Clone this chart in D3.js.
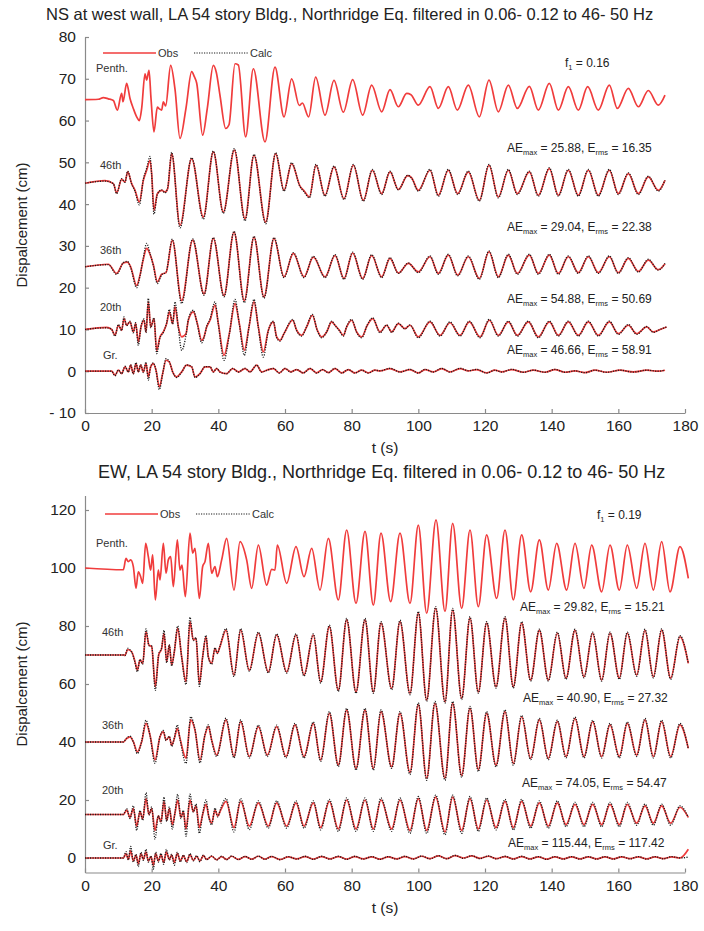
<!DOCTYPE html>
<html>
<head>
<meta charset="utf-8">
<script src="https://cdn.jsdelivr.net/npm/d3@7"></script>
<style>
  body { margin: 0; background: #fff; }
  svg { display: block; }
  text { font-family: "Liberation Sans", Arial, sans-serif; }
</style>
</head>
<body>
<svg id="chart" width="704" height="931"></svg>
<script>
// ---------- axis ticks ----------
const timeTicks = [0, 20, 40, 60, 80, 100, 120, 140, 160, 180];
const nsTicks = [-10, 0, 10, 20, 30, 40, 50, 60, 70, 80];
const ewTicks = [0, 20, 40, 60, 80, 100, 120];

// ---------- titles and annotations ----------
const nsTitle = "NS at west wall, LA 54 story Bldg., Northridge Eq. filtered in 0.06- 0.12 to 46- 50 Hz";
const ewTitle = "EW, LA 54 story Bldg., Northridge Eq. filtered in 0.06- 0.12 to 46- 50 Hz";
const floorNames = ["Penth.", "46th", "36th", "20th", "Gr."];
const nsAeMax = ["25.88", "29.04", "54.88", "46.66"];
const nsErms = ["16.35", "22.38", "50.69", "58.91"];
const ewAeMax = ["29.82", "40.90", "74.05", "115.44"];
const ewErms = ["15.21", "27.32", "54.47", "117.42"];
const nsF1 = "0.16";
const ewF1 = "0.19";

// ---------- NS records: [time (s), displacement (cm)] ----------
const nsPenthObs = [[0,65],[4,65.1],[5.5,65.5],[7,65.2],[8.5,64.8],[9.7,62.5],[11,66.5],[11.4,64.5],[12.5,68.9],[13.5,65.3],[14.5,62.9],[15.5,60.9],[16.3,60],[17,62.9],[18,71.2],[18.5,69.7],[19.2,72],[19.8,65.3],[20.7,57.3],[21.7,63.2],[22.3,62.8],[23,62.5],[23.5,64.5],[24.2,63.5],[25.7,73.2],[27,67.5],[28.5,55.7],[30.3,63],[32,71.7],[32.8,70.5],[33.5,69],[35.3,56.5],[36.7,63],[38.5,73.2],[39.4,71.5],[40.5,66],[42.2,58.1],[43.2,59],[45,73.6],[46,73.3],[48.2,56.1],[50.5,72.4],[54,54.9],[57,72.8],[59.7,60.9],[62,70],[64.3,63.6],[65.2,64.2],[67.1,60.9],[69.2,70.4],[72,61.3],[74.7,69.6],[77.5,62],[80.3,69.8],[83.3,61.3],[86,68.5],[89,62.1],[91.5,67.4],[94,63.3],[96.5,66.5],[97.8,66.2],[100,63.7],[103.5,68.1],[106,62.9],[109,68.1],[111.7,62.5],[115,68.5],[118.3,60.9],[121.2,69.7],[124,62.1],[127,68.5],[129.7,62.9],[133.3,68.2],[136,62.5],[139.3,68.9],[142,62.5],[145,68.1],[148,62.5],[150.8,68.1],[154,62.5],[157.3,68.5],[159.7,62.9],[163,67.7],[166,63.3],[169,67.2],[172,63.7],[174,66.1]];

const ns46Obs = [[0,45],[6,45.6],[8.5,44.9],[9.5,42.7],[11,45.9],[12,45.3],[12.8,47.7],[14,44.9],[15,43.3],[16.3,40.5],[17.5,45.7],[18.5,48.1],[19.5,50.5],[20,47.3],[20.7,38.5],[21.7,42.5],[23,43.3],[24,42.9],[24.8,43.7],[26,52.1],[28.5,34.9],[32,50.9],[35.5,36.9],[38.5,52.5],[41.5,38.1],[44.8,52.9],[48,36.5],[50.7,51.7],[54.2,35.7],[57.2,52.1],[59.7,43.3],[62,49.7],[64.5,44.3],[65.7,43.2],[67.3,41.7],[69.3,49.3],[72,42.1],[74.7,48.9],[77.7,41.3],[80.5,49.3],[83.5,40.9],[86.2,48.1],[89,42.5],[91.5,47.7],[94,43.5],[96.8,46.8],[98,46.3],[100,43.3],[103.5,48.1],[106,42.1],[109,48.1],[111.8,42.5],[115,47.7],[118.3,40.9],[121.2,49.3],[124,41.7],[127,48.1],[129.7,42.5],[133.3,47.7],[136,42.1],[139.3,48.5],[142,42.1],[145,48.1],[148,42.1],[151,48.1],[154,42.1],[157.3,48.1],[160,42.5],[163,47.3],[166,42.5],[169,46.5],[172,43.3],[174,45.7]];
const ns46Calc = [[0,45],[6,45.5],[8.5,44.9],[9.5,42.5],[11,46.1],[12,45.2],[12.8,47.9],[14,44.8],[15,43.1],[16.3,39.8],[17.5,45.9],[18.5,48.6],[19.5,51.4],[20,47],[20.7,37.6],[21.7,42.3],[23,43.4],[24,42.7],[24.8,43.9],[26,52.4],[28.5,34.3],[32,51.1],[35.5,36.4],[38.5,52.7],[41.5,37.8],[44.8,53.3],[48,36],[50.7,51.9],[54.2,35.3],[57.2,52.3],[59.7,43.1],[62,49.9],[64.5,44.2],[65.7,43],[67.3,41.5],[69.3,49.5],[72,41.9],[74.7,49.1],[77.7,41.1],[80.5,49.5],[83.5,40.7],[86.2,48.3],[89,42.3],[91.5,47.9],[94,43.4],[96.8,46.9],[98,46.2],[100,43.1],[103.5,48.3],[106,41.9],[109,48.3],[111.8,42.3],[115,47.9],[118.3,40.7],[121.2,49.5],[124,41.5],[127,48.3],[129.7,42.3],[133.3,47.9],[136,41.9],[139.3,48.7],[142,41.9],[145,48.3],[148,41.9],[151,48.3],[154,41.9],[157.3,48.3],[160,42.3],[163,47.5],[166,42.3],[169,46.7],[172,43.1],[174,45.8]];

const ns36Obs = [[0,25],[7,25.6],[9.5,23.4],[11.5,25.9],[12.7,26.1],[13.7,25],[15.5,20.5],[16.5,23],[17.5,26.8],[18.5,29.4],[19.5,28],[20.5,25.5],[21.7,21.4],[23,23.2],[24.3,23.6],[26.2,31.3],[29,16.9],[32.3,31.4],[35.7,18.5],[38.5,31.8],[41.7,18.1],[44.7,33.3],[47.8,16.9],[50.7,32.1],[53.7,17.8],[56.7,31.8],[59.7,22.6],[62.5,28.2],[65.7,22.6],[68.5,27.3],[72,22.6],[75,27.7],[77.7,22.2],[80.3,28.3],[83.3,22.2],[86,27.7],[89,22.6],[91.5,27],[94,23.5],[97,25.8],[100,23.8],[103.5,27.4],[106,23.4],[109,27.8],[111.8,23],[115,27.4],[118.3,22.2],[121.2,28.6],[124,22.6],[127,27.8],[129.7,23.4],[133.3,27.8],[136,23.4],[139.3,27.8],[142,23.4],[145,27.4],[148,23.6],[151,27.4],[154,23.6],[157.3,27.4],[160,23.6],[163,27],[166,23.9],[169,26.6],[172,24.3],[174,25.7]];
const ns36Calc = [[0,25],[7,25.5],[9.5,23.2],[11.5,26],[12.7,26.3],[13.7,24.8],[15.5,20],[16.5,22.8],[17.5,27.2],[18.5,30.6],[19.5,28.2],[20.5,25.3],[21.7,21],[23,23.1],[24.3,23.7],[26.2,31.6],[29,16.2],[32.3,31.7],[35.7,18.2],[38.5,32],[41.7,17.8],[44.7,33.5],[47.8,16.4],[50.7,32.3],[53.7,17.5],[56.7,32],[59.7,22.4],[62.5,28.4],[65.7,22.4],[68.5,27.5],[72,22.4],[75,27.9],[77.7,22],[80.3,28.5],[83.3,22],[86,27.9],[89,22.4],[91.5,27.2],[94,23.4],[97,25.9],[100,23.6],[103.5,27.6],[106,23.2],[109,28],[111.8,22.8],[115,27.6],[118.3,22],[121.2,28.8],[124,22.4],[127,28],[129.7,23.2],[133.3,28],[136,23.2],[139.3,28],[142,23.2],[145,27.6],[148,23.4],[151,27.6],[154,23.4],[157.3,27.6],[160,23.4],[163,27.2],[166,23.7],[169,26.8],[172,24.2],[174,25.8]];

const ns20Obs = [[0,10],[6.5,10.5],[8,10],[9,8.6],[10,11],[11,9.8],[11.7,12.6],[12.5,11],[13.5,11.8],[14.5,9.4],[15.2,11.4],[16,7],[16.8,10.6],[17.7,12.2],[18.3,9.4],[19,16.6],[19.7,10.6],[20.7,12.6],[21.5,5],[22.5,8.2],[23.5,9.4],[24.5,11.4],[25.3,14.2],[26.3,11.4],[27,15.4],[28,10.6],[29,8.2],[30.3,9],[31,12.2],[32.5,14.2],[33.7,11.4],[35,7.4],[35.7,8.2],[36.5,10.6],[37.5,12.2],[39,15.8],[40,11.4],[41.7,3.8],[43.3,9],[45,16.2],[46.3,11.4],[47.8,5],[49.2,10.6],[50.7,16.6],[52,10.6],[53.5,4.6],[55,9.8],[56.5,11.8],[57.5,8.2],[58.5,7.4],[59.7,9],[62.3,12.2],[63.5,9.8],[65,8.6],[66.5,10.6],[68.2,13.4],[69.7,9.8],[71,8.2],[72.5,9.4],[74,11.8],[75,11],[76.3,9.8],[77.5,8.6],[78.5,10.6],[80,12.2],[81.5,9.4],[83,8.2],[84.7,11],[86.3,12.6],[88.5,9.4],[90.5,11],[92,9.4],[94,11.4],[96,10.2],[97.5,11],[100,8.2],[103.5,11.8],[106.5,8.6],[109.5,11.6],[112.5,8.6],[115.3,11.8],[118.5,8.2],[121.3,12.2],[124,8.6],[127,11.8],[129.7,8.6],[133,11.8],[136,8.2],[139.3,11.8],[142,8.6],[145,11.8],[148,8.6],[151,11.8],[154,8.6],[157.3,11.8],[160,9],[163,11],[165.5,9],[168.5,10.6],[170.5,9.4],[172.5,10],[174.5,10.6]];
const ns20Calc = [[0,10],[6.5,10.4],[8,10],[9,8.4],[10,11.2],[11,9.7],[11.7,13],[12.5,10.9],[13.5,12],[14.5,9.2],[15.2,11.6],[16,6.2],[16.8,10.7],[17.7,12.5],[18.3,9.2],[19,17.4],[19.7,10.4],[20.7,12.8],[21.5,4.2],[22.5,8],[23.5,9.3],[24.5,11.6],[25.3,14.8],[26.3,11.3],[27,16.6],[28,10.4],[29,5],[30.3,8.6],[31,12.4],[32.5,14.6],[33.7,11.2],[35,6.8],[35.7,8],[36.5,10.7],[37.5,12.5],[39,16.6],[40,11.2],[41.7,2.6],[43.3,8.8],[45,17.2],[46.3,11.2],[47.8,3.8],[49.2,10.6],[50.7,17.2],[52,10.4],[53.5,3.4],[55,9.7],[56.5,12],[57.5,8],[58.5,7.2],[59.7,9],[62.3,12.4],[63.5,9.7],[65,8.4],[66.5,10.7],[68.2,13.6],[69.7,9.7],[71,8],[72.5,9.4],[74,12],[75,11],[76.3,9.7],[77.5,8.4],[78.5,10.7],[80,12.4],[81.5,9.3],[83,8],[84.7,11.1],[86.3,12.8],[88.5,9.2],[90.5,11.1],[92,9.3],[94,11.5],[96,10.1],[97.5,11.1],[100,8],[103.5,12],[106.5,8.4],[109.5,11.8],[112.5,8.4],[115.3,12],[118.5,8],[121.3,12.4],[124,8.4],[127,12],[129.7,8.4],[133,12],[136,8],[139.3,12],[142,8.4],[145,12],[148,8.4],[151,12],[154,8.4],[157.3,12],[160,8.8],[163,11.2],[165.5,8.8],[168.5,10.7],[170.5,9.3],[172.5,10],[174.5,10.6]];

const nsGrObs = [[0,0],[8,0],[9,-0.96],[10,0.24],[11,-0.56],[12,1.04],[13,-0.16],[13.7,1.44],[14.5,-0.56],[15.3,1.84],[16,-0.16],[16.7,1.44],[17.5,-0.16],[18.3,1.84],[19,-1.36],[19.7,1.04],[20.5,1.84],[21.3,0.24],[22.3,-3.75],[23.3,-0.56],[24.3,2.63],[25.3,2.2],[26.3,-0.16],[27.5,-1.36],[29,-0.16],[30.5,1.44],[32,1.04],[33,-1.36],[34.5,-0.56],[36,1.04],[37.5,1.04],[38.5,-0.16],[39.5,0.64],[40.5,-0.16],[42.5,-0.56],[44.3,0.64],[46,-0.16],[48,0.64],[49.5,-0.16],[51.5,1.44],[53,-0.16],[54.5,0.24],[56.5,0.64],[58.3,-0.4],[60,0.64],[61.7,-0.16],[63.5,0.4],[65.5,-0.4],[67.5,0.64],[69.5,-0.4],[71.3,0.4],[73,-0.32],[75,0.64],[77,-0.4],[79,0.4],[81,-0.4],[83,0.24],[85,-0.4],[87,0.24],[88.5,0.08],[91.5,0.64],[94.5,-0.16],[97.5,0.4],[100,-0.4],[102,0.4],[104.5,-0.16],[107,0.64],[109.5,-0.16],[112.5,0.64],[115,0.08],[117.5,0.4],[120.5,-0.4],[123,0.24],[125,-0.16],[128,0.4],[131.5,-0.24],[134.5,0.24],[138,-0.24],[141,0.4],[144,-0.24],[147,0.08],[150,-0.32],[153,0.24],[156.5,-0.24],[160.5,0.24],[164.5,-0.16],[168.5,0.24],[172,0],[174,0.24]];
const nsGrCalc = [[0,0],[8,0],[9,-1.1],[10,0.3],[11,-0.6],[12,1.2],[13,-0.2],[13.7,1.6],[14.5,-0.7],[15.3,2.1],[16,-0.2],[16.7,1.6],[17.5,-0.3],[18.3,2.2],[19,-2.15],[19.7,1.1],[20.5,2],[21.3,0.2],[22.3,-4.4],[23.3,-0.6],[24.3,3],[25.3,2.3],[26.3,-0.2],[27.5,-1.5],[29,-0.2],[30.5,1.5],[32,1.1],[33,-1.5],[34.5,-0.6],[36,1.1],[37.5,1.1],[38.5,-0.2],[39.5,0.7],[40.5,-0.2],[42.5,-0.6],[44.3,0.7],[46,-0.2],[48,0.7],[49.5,-0.2],[51.5,1.5],[53,-0.2],[54.5,0.2],[56.5,0.7],[58.3,-0.45],[60,0.7],[61.7,-0.2],[63.5,0.4],[65.5,-0.45],[67.5,0.7],[69.5,-0.45],[71.3,0.4],[73,-0.35],[75,0.7],[77,-0.45],[79,0.4],[81,-0.45],[83,0.25],[85,-0.45],[87,0.25],[88.5,0.1],[91.5,0.7],[94.5,-0.2],[97.5,0.45],[100,-0.45],[102,0.45],[104.5,-0.2],[107,0.7],[109.5,-0.2],[112.5,0.7],[115,0.1],[117.5,0.45],[120.5,-0.45],[123,0.25],[125,-0.2],[128,0.45],[131.5,-0.25],[134.5,0.25],[138,-0.25],[141,0.45],[144,-0.25],[147,0.1],[150,-0.35],[153,0.25],[156.5,-0.25],[160.5,0.25],[164.5,-0.2],[168.5,0.25],[172,0],[174,0.25]];

// ---------- EW records: [time (s), displacement (cm)] ----------
const ewPenthObs = [[0,100],[11.5,99.4],[12.3,103.3],[13,102.2],[13.7,102.8],[14.5,100.5],[15.3,93],[16,98.7],[16.7,97],[17.3,94.7],[18.2,108.5],[19,103.9],[19.7,99.3],[20.3,104.5],[21.1,89],[22,99.3],[22.5,95.9],[23.5,108.5],[24.3,98.2],[25,102.8],[25.7,103.9],[26.5,93.6],[27.7,109.7],[28.5,99.3],[29.1,101],[30.1,90.1],[31.5,112],[32.3,105.1],[33,106.8],[34.3,89.5],[35.3,100.5],[36,102.2],[37,108.5],[38,98.2],[39,100.5],[39.7,97],[41,102.8],[42.5,110.2],[44.7,92.4],[46.5,109.1],[48.5,102.8],[50,93],[52,107.9],[54.5,94.1],[56,99.5],[57,99.3],[57.7,107.9],[60.5,94.7],[63.3,107.4],[65.7,97],[68,106.8],[70.5,92.4],[73,110.2],[76,89],[78.5,113.1],[81.3,87.8],[84,112.6],[86.5,87.2],[88.8,112],[91.7,88.4],[94.5,112],[97.5,87.8],[100,114.8],[102.5,84.4],[105.3,116.6],[108,85],[110.3,115.4],[113,86.1],[115.5,113.1],[118,86.7],[120.5,111.4],[123.5,89.5],[126,113.1],[128.5,89],[131,111.4],[133.7,91.8],[136.3,109.7],[139,92.4],[141.5,108.5],[144.5,92.4],[147,108.5],[149.7,93],[152,107.9],[155,91.8],[157.5,107.9],[160.3,92.4],[162.7,107.9],[165.5,93],[168,108.5],[170.5,92.4],[173,109.1],[175.5,91.8],[178.5,107.4],[181,96.4]];

const ew46Obs = [[0,70],[11.5,70],[12,69.9],[12.8,71.9],[14,71.1],[15,67.7],[15.7,64.8],[16.5,68.3],[17.3,67.1],[18.3,78],[19.2,73.4],[20,72.9],[21.1,59.1],[22.1,70],[23,72.3],[23.7,77.5],[24.5,67.7],[25.3,73.4],[26,66.6],[26.8,71.1],[27.8,79.2],[29,69.4],[30.3,60.8],[31.5,81.5],[32.5,75.2],[33.3,75.7],[34.3,60.2],[35.3,69.4],[36.3,76.3],[37,69.4],[38,67.1],[39,72.3],[39.7,70.6],[40.5,72.9],[42.3,78.6],[44.7,63.1],[46.7,78.6],[49.3,64.8],[52,77.5],[55,64.2],[57.5,76.9],[60.5,64.2],[63.3,76.9],[65.7,63.1],[68.5,76.9],[70.7,60.8],[73.3,79.8],[76,57.9],[78.5,82.1],[81.3,57.3],[84,82.1],[86.5,57.3],[88.8,81],[92,58.5],[94.5,81.5],[97.5,56.8],[100,84.4],[102.5,54.5],[105.2,86.1],[108,53.9],[110.3,85.5],[113,55.1],[115.5,82.7],[118,57.3],[120.5,81],[123.3,59.1],[126,82.7],[128.5,59.1],[131,81],[133.7,61.4],[136.3,78.5],[139,61.4],[141.7,77.5],[144.3,62],[147,78.5],[149.7,62.5],[152.3,77.5],[155,61.4],[157.5,77.5],[160.3,62],[162.7,77.5],[165.5,63.1],[168,78.5],[170.5,62.5],[173,78.6],[175.7,62],[178.5,76.3],[181,67.1]];
const ew46Calc = [[0,70],[11.5,70],[12,69.8],[12.8,72.3],[14,71],[15,67.4],[15.7,64.2],[16.5,68.5],[17.3,66.8],[18.3,79],[19.2,73.2],[20,73.1],[21.1,57.8],[22.1,70.2],[23,72.5],[23.7,78.5],[24.5,67.3],[25.3,73.6],[26,66.2],[26.8,71.3],[27.8,80],[29,69.2],[30.3,59.8],[31.5,83],[32.5,75],[33.3,76],[34.3,59.2],[35.3,69.3],[36.3,76.8],[37,69.2],[38,66.8],[39,72.5],[39.7,70.5],[40.5,73.1],[42.3,79.1],[44.7,62.6],[46.7,79.1],[49.3,64.4],[52,77.9],[55,63.8],[57.5,77.3],[60.5,63.8],[63.3,77.3],[65.7,62.7],[68.5,77.3],[70.7,60.3],[73.3,80.3],[76,57.4],[78.5,82.6],[81.3,56.8],[84,82.6],[86.5,56.8],[88.8,81.5],[92,58],[94.5,82],[97.5,56.3],[100,85],[102.5,54],[105.2,86.7],[108,53.4],[110.3,86.1],[113,54.6],[115.5,83.2],[118,56.8],[120.5,81.5],[123.3,58.6],[126,83.2],[128.5,58.6],[131,81.5],[133.7,61],[136.3,78.9],[139,61],[141.7,77.9],[144.3,61.6],[147,78.9],[149.7,62.1],[152.3,77.9],[155,61],[157.5,77.9],[160.3,61.6],[162.7,77.9],[165.5,62.7],[168,78.9],[170.5,62.1],[173,79],[175.7,61.6],[178.5,76.7],[181,67]];

const ew36Obs = [[0,40],[11.5,40],[12.5,41.2],[13.5,41.8],[14.5,40.1],[15.7,36.6],[17,40.1],[18.3,46.4],[19.5,42.4],[21,33.8],[22.5,41.8],[23.5,43.5],[24.3,40.7],[25.3,41.8],[26,38.9],[26.8,41.2],[27.7,44.7],[28.5,41.2],[30.3,34.4],[31.7,47.6],[33,44.1],[34.5,33.8],[36,42.4],[37,45.3],[38,40.7],[39.5,35.5],[42.3,47.6],[44.7,35],[46.7,47],[49.3,35],[52,45.3],[54.7,35.5],[57.5,45.3],[60.3,35],[63,45.9],[65.7,35],[68.5,46.4],[70.7,33.8],[73.3,49.9],[76,32.1],[78.5,51],[81.3,30.9],[84,51],[86.5,30.9],[88.8,50.5],[92,31.5],[94.5,49.9],[97.5,29.5],[100,52.8],[102.5,27.5],[105,53.3],[108,27.5],[110.3,53.3],[113,28.5],[115.5,51.6],[118,30.5],[120.5,49.9],[123.3,32],[126,50.5],[128.5,32.6],[131,48.7],[133.7,34.4],[136.3,47.6],[139,34.4],[141.7,47],[144.3,35],[147,48.1],[149.7,35],[152.3,47],[155,35],[157.5,45.9],[160.3,35],[162.7,46.4],[165.5,35.5],[168,47.6],[170.5,35],[173,47],[175.7,35],[178.5,45.9],[181,37.8]];
const ew36Calc = [[0,40],[11.5,40],[12.5,41.4],[13.5,42],[14.5,40],[15.7,36],[17,40.2],[18.3,47.5],[19.5,42.2],[21,32.6],[22.5,42],[23.5,44],[24.3,40.5],[25.3,42],[26,38.5],[26.8,41.4],[27.7,45.9],[28.5,41],[30.3,32.6],[31.7,48.7],[33,44.3],[34.5,32.8],[36,42.6],[37,45.9],[38,40.5],[39.5,35],[42.3,48.2],[44.7,34.5],[46.7,47.6],[49.3,34.5],[52,45.8],[54.7,35],[57.5,45.8],[60.3,34.5],[63,46.4],[65.7,34.5],[68.5,46.9],[70.7,33.3],[73.3,50.5],[76,31.5],[78.5,51.6],[81.3,30.3],[84,51.6],[86.5,30.3],[88.8,51.1],[92,30.9],[94.5,50.5],[97.5,28.8],[100,53.5],[102.5,26.8],[105,54],[108,26.8],[110.3,54],[113,27.8],[115.5,52.3],[118,29.8],[120.5,50.5],[123.3,31.4],[126,51.1],[128.5,32],[131,49.2],[133.7,33.9],[136.3,48.1],[139,33.9],[141.7,47.5],[144.3,34.5],[147,48.6],[149.7,34.5],[152.3,47.5],[155,34.5],[157.5,46.4],[160.3,34.5],[162.7,46.9],[165.5,35],[168,48.1],[170.5,34.5],[173,47.5],[175.7,34.5],[178.5,46.4],[181,37.6]];

const ew20Obs = [[0,15],[11.5,15],[12.5,16.5],[13.5,14],[14.5,17],[15.5,11],[16.5,16],[17.3,13.5],[18.3,20.5],[19.2,15],[20,17],[21,9.5],[22,14.5],[22.8,12.5],[23.7,19.5],[24.5,13],[25.3,17],[26.2,11.5],[27,15.5],[27.8,20],[28.8,14],[29.5,16],[30.3,10],[31.5,20],[32.5,16],[33.3,18],[34.3,10.5],[35.3,15],[36.3,18.5],[37.2,14],[38,12],[39,16.5],[39.8,14.5],[40.7,16.5],[42.3,19.5],[44.7,10.5],[46.7,19.5],[49.3,11],[52,19],[55,11],[57.5,19],[60.5,11],[63.3,19],[65.7,11],[68.5,19],[70.7,10.5],[73.3,19.5],[76,10],[78.5,20],[81.3,10],[84,20],[86.5,10],[88.8,20],[92,10],[94.5,20],[97.5,9.5],[100,20.5],[102.5,9.5],[105.2,21],[108,9],[110.3,21],[113,9.5],[115.5,20.5],[118,10],[120.5,20],[123.3,10.5],[126,19.5],[128.5,10.5],[131,19.5],[133.7,11],[136.3,19],[139,11],[141.7,19],[144.3,11.5],[147,18.5],[149.7,11.5],[152.3,18.5],[155,11.5],[157.5,18.5],[160.3,11.5],[162.7,18.5],[165.5,12],[168,18],[170.5,12],[173,18],[175.7,12],[178.5,17.5],[181,14]];
const ew20Calc = [[0,15],[11.5,15],[12.5,17],[13.5,13.6],[14.5,18],[15.5,9.5],[16.5,16.4],[17.3,13],[18.3,22.5],[19.2,14.8],[20,17.6],[21,6.5],[22,14.6],[22.8,12],[23.7,21],[24.5,12.6],[25.3,17.6],[26.2,10],[27,15.8],[27.8,22],[28.8,13.6],[29.5,16.4],[30.3,7.5],[31.5,22],[32.5,15.8],[33.3,18.6],[34.3,8.5],[35.3,15.2],[36.3,20],[37.2,13.8],[38,11.4],[39,17.2],[39.8,14.2],[40.7,17],[42.3,20.5],[44.7,9],[46.7,20.5],[49.3,9.8],[52,19.7],[55,10.3],[57.5,19.7],[60.5,10.3],[63.3,19.7],[65.7,10.3],[68.5,19.7],[70.7,9.7],[73.3,20.2],[76,9.2],[78.5,20.7],[81.3,9.2],[84,20.7],[86.5,9.2],[88.8,20.7],[92,9.2],[94.5,20.7],[97.5,8.5],[100,21.2],[102.5,8.5],[105.2,21.7],[108,8],[110.3,21.7],[113,8.5],[115.5,21.2],[118,9.2],[120.5,20.7],[123.3,9.7],[126,20.2],[128.5,9.7],[131,20.2],[133.7,10.3],[136.3,19.7],[139,10.3],[141.7,19.7],[144.3,10.8],[147,19.2],[149.7,10.8],[152.3,19.2],[155,10.8],[157.5,19.2],[160.3,10.8],[162.7,19.2],[165.5,11.3],[168,18.6],[170.5,11.3],[173,18.6],[175.7,11.3],[178.5,18],[181,14]];

const ewGrObs = [[0,0],[11.5,0],[12.3,1.5],[13,-0.5],[13.7,2.5],[14.5,-1],[15.3,1],[16,-2],[16.8,1.5],[17.5,-0.5],[18.3,2],[19,-1],[19.8,0.5],[20.5,-2.5],[21.2,1.5],[22,-1],[22.8,1.2],[23.6,-1.5],[24.4,2],[25.3,-0.5],[26,1],[26.8,-1.5],[27.7,1.5],[28.6,-1],[29.5,0.8],[30.5,-1.2],[31.5,1.2],[32.5,-0.8],[33.5,0.6],[34.5,-1],[35.5,0.8],[36.5,-0.5],[38,0.6],[39.5,-0.6],[41,0.5],[42.5,-0.5],[44,0.6],[46,-0.5],[48,0.5],[50,-0.4],[52,0.6],[54,-0.4],[56,0.5],[58.5,-0.5],[61,0.4],[63.5,-0.3],[66,0.5],[68.5,-0.4],[71,0.5],[73.5,-0.3],[76,0.5],[78.5,-0.4],[81,0.5],[83.5,-0.3],[86,0.4],[88.5,-0.4],[91,0.4],[93.5,-0.3],[96,0.5],[98.5,-0.3],[101,0.6],[103.5,-0.2],[106,0.7],[108.5,-0.2],[111,0.8],[113.5,0],[116,0.7],[118.5,-0.1],[121,0.6],[123.5,-0.2],[126,0.5],[128.5,-0.3],[131,0.5],[133.5,-0.3],[136,0.4],[138.5,-0.4],[141,0.4],[143.5,-0.3],[146,0.4],[148.5,-0.3],[151,0.4],[153.5,-0.3],[156,0.4],[158.5,-0.3],[161,0.4],[163.5,-0.2],[166,0.4],[168.5,-0.3],[171,0.4],[173.5,-0.2],[176,0.4],[178.5,0],[181,3]];
const ewGrCalc = [[0,0],[11.5,0],[12.3,2.2],[13,-0.7],[13.7,4],[14.5,-1.4],[15.3,1.3],[16,-3],[16.8,2],[17.5,-0.8],[18.3,3],[19,-1.4],[19.8,0.7],[20.5,-3.8],[21.2,2],[22,-1.4],[22.8,1.6],[23.6,-2.2],[24.4,3],[25.3,-0.7],[26,1.3],[26.8,-2.5],[27.7,2],[28.6,-1.4],[29.5,1],[30.5,-1.6],[31.5,1.5],[32.5,-1],[33.5,0.8],[34.5,-1.3],[35.5,1],[36.5,-0.6],[38,0.7],[39.5,-0.7],[41,0.6],[42.5,-0.6],[44,0.7],[46,-0.6],[48,0.6],[50,-0.5],[52,0.7],[54,-0.5],[56,0.6],[58.5,-0.6],[61,0.5],[63.5,-0.4],[66,0.6],[68.5,-0.5],[71,0.6],[73.5,-0.4],[76,0.6],[78.5,-0.5],[81,0.6],[83.5,-0.4],[86,0.5],[88.5,-0.5],[91,0.5],[93.5,-0.4],[96,0.6],[98.5,-0.4],[101,0.7],[103.5,-0.3],[106,0.8],[108.5,-0.3],[111,0.9],[113.5,-0.1],[116,0.8],[118.5,-0.2],[121,0.7],[123.5,-0.3],[126,0.6],[128.5,-0.4],[131,0.6],[133.5,-0.4],[136,0.5],[138.5,-0.5],[141,0.5],[143.5,-0.4],[146,0.5],[148.5,-0.4],[151,0.5],[153.5,-0.4],[156,0.5],[158.5,-0.4],[161,0.5],[163.5,-0.3],[166,0.5],[168.5,-0.4],[171,0.5],[173.5,-0.3],[176,0.5],[178.5,0],[181,0.3]];

// ---------- drawing ----------
const OBS = "#f03c3c";
const CALC = "#1c1c1c";
const AXIS = "#8a8a8a";
const INK = "#222";

const svg = d3.select("#chart");
svg.append("rect").attr("width", 704).attr("height", 931).attr("fill", "#fff");

const x = d3.scaleLinear().domain([0, 180]).range([85, 685]);

function drawPanel(p) {
  const g = svg.append("g");
  const y = d3.scaleLinear().domain(p.yDomain).range([p.bottom, p.top]);

  // title
  g.append("text").attr("x", p.titleX).attr("y", p.titleY)
    .attr("font-size", p.titleSize).attr("fill", INK).text(p.title);

  // axes with inward ticks
  const ax = g.append("g").attr("transform", `translate(0,${p.bottom})`)
    .call(d3.axisBottom(x).tickValues(timeTicks).tickSize(-4).tickSizeOuter(0).tickPadding(7));
  const ay = g.append("g").attr("transform", `translate(${x(0)},0)`)
    .call(d3.axisLeft(y).tickValues(p.yTicks).tickSize(-4).tickSizeOuter(0).tickPadding(9)
      .tickFormat(v => v < 0 ? "- " + Math.abs(v) : String(v)));
  [ax, ay].forEach(a => {
    a.attr("font-family", null).attr("font-size", 15.5);
    a.selectAll("path.domain").attr("stroke", AXIS).attr("stroke-width", 1.2);
    a.selectAll(".tick line").attr("stroke", AXIS).attr("stroke-width", 1.2);
    a.selectAll(".tick text").attr("fill", INK);
  });

  // axis titles
  g.append("text").attr("x", 385).attr("y", p.bottom + 40).attr("text-anchor", "middle")
    .attr("font-size", 15.5).attr("fill", INK).text("t (s)");
  g.append("text").attr("transform", `translate(27,${(p.top + p.bottom) / 2}) rotate(-90)`)
    .attr("text-anchor", "middle").attr("font-size", 15).attr("fill", INK).text("Dispalcement (cm)");

  // legend
  const lg = g.append("g");
  lg.append("line").attr("x1", p.legendX).attr("x2", p.legendX + 53)
    .attr("y1", p.legendY).attr("y2", p.legendY).attr("stroke", OBS).attr("stroke-width", 1.6);
  lg.append("text").attr("x", p.legendX + 55).attr("y", p.legendY + 4)
    .attr("font-size", 11).attr("fill", "#333").text("Obs");
  lg.append("line").attr("x1", p.legendX + 91).attr("x2", p.legendX + 146)
    .attr("y1", p.legendY).attr("y2", p.legendY).attr("stroke", CALC)
    .attr("stroke-width", 1.1).attr("stroke-dasharray", "1.2,1.3");
  lg.append("text").attr("x", p.legendX + 147).attr("y", p.legendY + 4)
    .attr("font-size", 11).attr("fill", "#333").text("Calc");

  // records: observed (solid red) under calculated (dotted black)
  const line = d3.line().x(d => x(d[0])).y(d => y(d[1])).curve(d3.curveMonotoneX);
  p.records.forEach((r, i) => {
    g.append("path").attr("d", line(r.obs)).attr("fill", "none")
      .attr("stroke", OBS).attr("stroke-width", 1.7).attr("stroke-linejoin", "round");
    if (r.calc) {
      g.append("path").attr("d", line(r.calc)).attr("fill", "none")
        .attr("stroke", CALC).attr("stroke-width", 1.3).attr("stroke-dasharray", "1.2,1.3");
    }
    g.append("text").attr("x", r.labelX).attr("y", r.labelY)
      .attr("font-size", 11).attr("fill", "#333").text(floorNames[i]);
  });

  // f1 annotation
  const ft = g.append("text").attr("x", p.f1X).attr("y", p.f1Y).attr("font-size", 12).attr("fill", INK);
  ft.append("tspan").text("f");
  ft.append("tspan").attr("dy", 3).attr("font-size", 7.5).text("1");
  ft.append("tspan").attr("dy", -3).text(" = " + p.f1);

  // error annotations
  p.aeMax.forEach((ae, i) => {
    const t = g.append("text").attr("x", p.aeX[i]).attr("y", p.aeY[i])
      .attr("font-size", 12).attr("fill", INK);
    t.append("tspan").text("AE");
    t.append("tspan").attr("dy", 3).attr("font-size", 7.5).text("max");
    t.append("tspan").attr("dy", -3).text(" = " + ae + ", E");
    t.append("tspan").attr("dy", 3).attr("font-size", 7.5).text("rms");
    t.append("tspan").attr("dy", -3).text(" = " + p.erms[i]);
  });
}

drawPanel({
  title: nsTitle, titleX: 46, titleY: 20, titleSize: 16.5,
  yDomain: [-10, 80], yTicks: nsTicks, top: 37, bottom: 413,
  legendX: 103, legendY: 53,
  records: [
    { obs: nsPenthObs, labelX: 96, labelY: 72 },
    { obs: ns46Obs, calc: ns46Calc, labelX: 100, labelY: 169 },
    { obs: ns36Obs, calc: ns36Calc, labelX: 100, labelY: 254 },
    { obs: ns20Obs, calc: ns20Calc, labelX: 100, labelY: 311 },
    { obs: nsGrObs, calc: nsGrCalc, labelX: 103, labelY: 359 }
  ],
  f1: nsF1, f1X: 565, f1Y: 67,
  aeMax: nsAeMax, erms: nsErms,
  aeX: [507, 507, 507, 507], aeY: [152, 231, 303, 354]
});

drawPanel({
  title: ewTitle, titleX: 98, titleY: 478, titleSize: 18,
  yDomain: [-5, 125], yTicks: ewTicks, top: 495.5, bottom: 872.5,
  legendX: 105, legendY: 514,
  records: [
    { obs: ewPenthObs, labelX: 96, labelY: 547 },
    { obs: ew46Obs, calc: ew46Calc, labelX: 102, labelY: 636 },
    { obs: ew36Obs, calc: ew36Calc, labelX: 102, labelY: 729 },
    { obs: ew20Obs, calc: ew20Calc, labelX: 102, labelY: 794 },
    { obs: ewGrObs, calc: ewGrCalc, labelX: 103, labelY: 849 }
  ],
  f1: ewF1, f1X: 597, f1Y: 519,
  aeMax: ewAeMax, erms: ewErms,
  aeX: [520, 523, 522, 508], aeY: [611, 702, 787, 847]
});
</script>
</body>
</html>
